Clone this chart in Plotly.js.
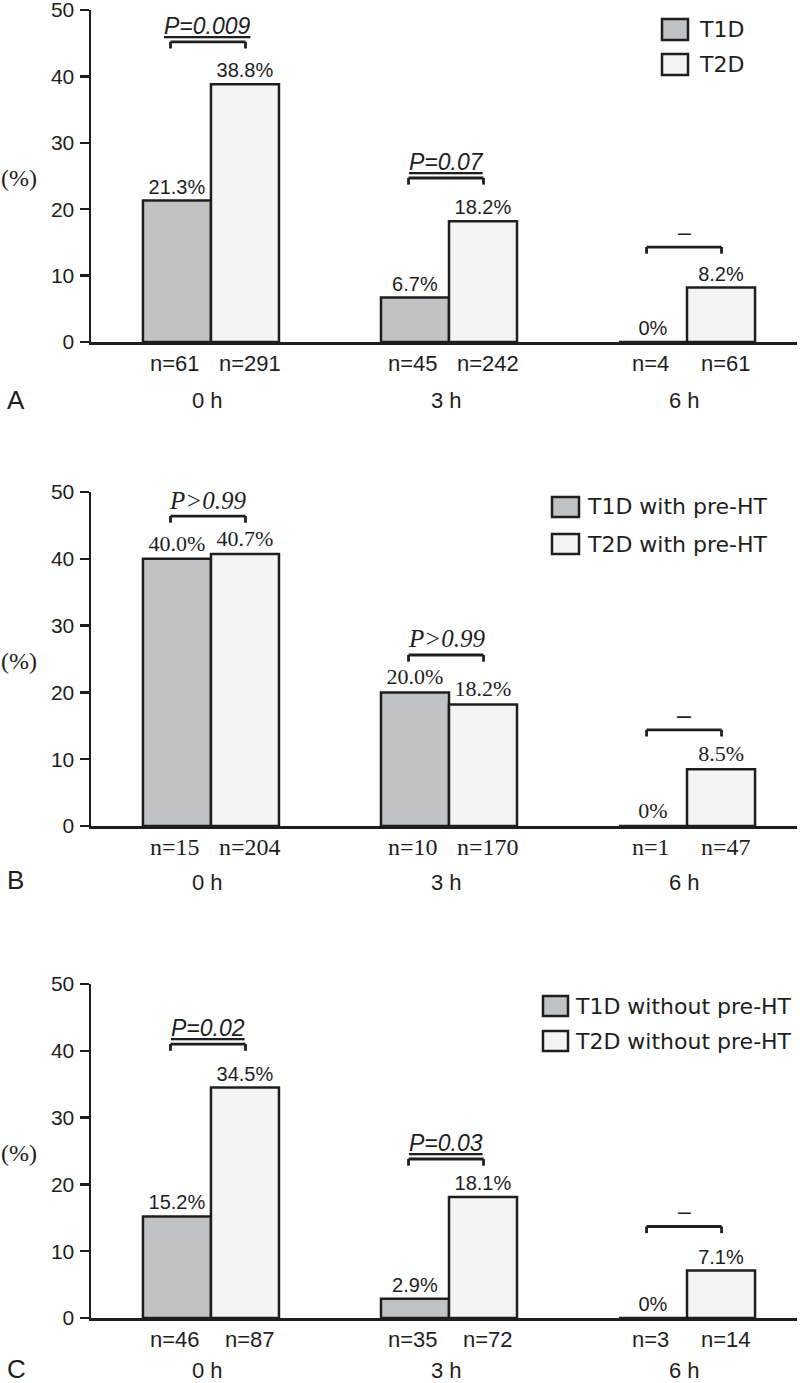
<!DOCTYPE html>
<html><head><meta charset="utf-8">
<script src="https://cdn.plot.ly/plotly-3.0.1.min.js"></script>
<style>body{margin:0;background:#fff}#chart{width:800px;height:1383px}</style>
</head><body><div id="chart"></div>
<script>
// ---- data ----
const timePoints = ['0 h', '3 h', '6 h'];
const panelLetters = ['A', 'B', 'C'];
const seriesNamesA = ['T1D', 'T2D'];
const seriesNamesB = ['T1D with pre-HT', 'T2D with pre-HT'];
const seriesNamesC = ['T1D without pre-HT', 'T2D without pre-HT'];
const t1dA = [21.3, 6.7, 0];
const t2dA = [38.8, 18.2, 8.2];
const t1dB = [40.0, 20.0, 0];
const t2dB = [40.7, 18.2, 8.5];
const t1dC = [15.2, 2.9, 0];
const t2dC = [34.5, 18.1, 7.1];
const nT1dA = [61, 45, 4];
const nT2dA = [291, 242, 61];
const nT1dB = [15, 10, 1];
const nT2dB = [204, 170, 47];
const nT1dC = [46, 35, 3];
const nT2dC = [87, 72, 14];
const pLabelsA = ['P=0.009', 'P=0.07', '–'];
const pLabelsB = ['P>0.99', 'P>0.99', '–'];
const pLabelsC = ['P=0.02', 'P=0.03', '–'];
const bracketA = [45.2, 24.7, 14.3];
const bracketB = [46.4, 25.6, 14.4];
const bracketC = [41.0, 23.8, 13.7];
const yTicks = [0, 10, 20, 30, 40, 50];

// ---- styling ----
const W = 800, H = 1383;
const INK = '#1e1e1e';
const T1D_FILL = '#c1c2c4', T2D_FILL = '#f4f4f4';
const SANS = 'Liberation Sans, Arial, sans-serif';
const SERIF = 'Liberation Serif, Times New Roman, serif';
const LEG = 'DejaVu Sans, sans-serif';
const px2x = p => p / W;
const px2y = p => 1 - p / H;

const panels = [
  {t1: t1dA, t2: t2dA, n1: nT1dA, n2: nT2dA, names: seriesNamesA, p: pLabelsA, br: bracketA,
   top: 10, bot: 342, font: SANS, lblSize: 20, nSize: 22, pSize: 23, pFont: SANS, underline: true,
   below: -58, letter: -58,
   leg: {x: 662, y: [19, 54], w: 26, h: 21, tx: 697}},
  {t1: t1dB, t2: t2dB, n1: nT1dB, n2: nT2dB, names: seriesNamesB, p: pLabelsB, br: bracketB,
   top: 492, bot: 826, font: SERIF, lblSize: 22, nSize: 24, pSize: 25, pFont: SERIF, underline: false,
   below: -56, letter: -54,
   leg: {x: 552, y: [497, 534], w: 27, h: 20, tx: 585}},
  {t1: t1dC, t2: t2dC, n1: nT1dC, n2: nT2dC, names: seriesNamesC, p: pLabelsC, br: bracketC,
   top: 984, bot: 1318, font: SANS, lblSize: 20, nSize: 22, pSize: 23, pFont: SANS, underline: true,
   below: -52, letter: -51,
   leg: {x: 543, y: [996, 1031], w: 25, h: 20, tx: 573}}
];

const fmt = v => v === 0 ? '0%' : v.toFixed(1) + '%';
const traces = [], annotations = [], shapes = [];
const layout = {
  width: W, height: H, margin: {l: 0, r: 0, t: 0, b: 0},
  paper_bgcolor: '#fff', plot_bgcolor: 'rgba(0,0,0,0)',
  barmode: 'group', bargap: 0.4286, bargroupgap: 0,
  showlegend: false, font: {family: SANS, color: INK},
  annotations, shapes
};

const X0 = 91, X1 = 797;
panels.forEach((pn, k) => {
  const sfx = k === 0 ? '' : String(k + 1);
  const xa = 'x' + sfx, ya = 'y' + sfx;
  layout['xaxis' + sfx] = {
    domain: [px2x(X0), px2x(X1)], anchor: ya, type: 'category',
    categoryorder: 'array', categoryarray: timePoints,
    range: [-0.504, 2.462], showline: true, linewidth: 2.5, linecolor: INK,
    ticks: '', showticklabels: false, showgrid: false, zeroline: false, fixedrange: true
  };
  layout['yaxis' + sfx] = {
    domain: [px2y(pn.bot), px2y(pn.top)], anchor: xa, range: [0, 50],
    tickvals: yTicks, ticks: 'outside', ticklen: 9, tickwidth: 2.5, tickcolor: INK,
    showline: true, linewidth: 2.5, linecolor: INK, showgrid: false, zeroline: false,
    tickfont: {family: SANS, size: 21, color: INK}, ticklabelstandoff: 1,
    ticklabeloverflow: 'allow', fixedrange: true
  };
  [[pn.t1, T1D_FILL, pn.names[0]], [pn.t2, T2D_FILL, pn.names[1]]].forEach(([vals, fill, name]) => {
    traces.push({
      type: 'bar', name, x: timePoints, y: vals, xaxis: xa, yaxis: ya,
      marker: {color: fill, line: {color: INK, width: 2.5}},
      text: vals.map(fmt), textposition: 'outside', cliponaxis: false, constraintext: 'none',
      textfont: {family: pn.font, size: pn.lblSize, color: INK}, hoverinfo: 'skip'
    });
  });
  // n labels and time labels
  timePoints.forEach((tp, i) => {
    annotations.push({xref: xa, yref: ya, x: i - 0.143, y: 0, yshift: -21, xshift: -2,
      text: 'n=' + pn.n1[i], showarrow: false, yanchor: 'middle',
      font: {family: pn.font, size: pn.nSize, color: INK}});
    annotations.push({xref: xa, yref: ya, x: i + 0.143, y: 0, yshift: -21, xshift: 5,
      text: 'n=' + pn.n2[i], showarrow: false, yanchor: 'middle',
      font: {family: pn.font, size: pn.nSize, color: INK}});
    annotations.push({xref: xa, yref: ya, x: i, y: 0, yshift: pn.below, xshift: -3,
      text: tp, showarrow: false, yanchor: 'middle',
      font: {family: SANS, size: 22, color: INK}});
    // significance bracket
    const bl = i - 0.17, brr = i + 0.145, h = pn.br[i];
    shapes.push({type: 'line', xref: xa, yref: ya, x0: bl, x1: brr, y0: h, y1: h, line: {color: INK, width: 2.8}});
    shapes.push({type: 'line', xref: xa, yref: ya, x0: bl, x1: bl, y0: h, y1: h - 1.0, line: {color: INK, width: 2.8}});
    shapes.push({type: 'line', xref: xa, yref: ya, x0: brr, x1: brr, y0: h, y1: h - 1.0, line: {color: INK, width: 2.8}});
    const isDash = pn.p[i] === '–';
    let txt = pn.p[i];
    if (!isDash) { txt = '<i>' + txt + '</i>'; if (pn.underline) txt = '<u>' + txt + '</u>'; }
    annotations.push({xref: xa, yref: ya, x: (bl + brr) / 2, y: h, yshift: isDash ? 15 : 16,
      text: txt, showarrow: false, yanchor: 'middle',
      font: {family: isDash ? SANS : pn.pFont, size: pn.pSize, color: INK}});
  });
  // (%) label
  annotations.push({xref: 'paper', yref: ya, x: px2x(19), y: 25, yshift: -2, text: '(%)',
    showarrow: false, xanchor: 'center', yanchor: 'middle', font: {family: SERIF, size: 24, color: INK}});
  // panel letter
  annotations.push({xref: 'paper', yref: ya, x: px2x(5), y: 0, yshift: pn.letter, text: panelLetters[k],
    showarrow: false, xanchor: 'left', yanchor: 'middle', font: {family: SANS, size: 26, color: INK}});
  // legend
  const lg = pn.leg;
  [T1D_FILL, T2D_FILL].forEach((fill, j) => {
    const yTop = lg.y[j];
    shapes.push({type: 'rect', xref: 'paper', yref: 'paper',
      x0: px2x(lg.x), x1: px2x(lg.x + lg.w), y0: px2y(yTop + lg.h), y1: px2y(yTop),
      fillcolor: fill, line: {color: INK, width: 2.5}});
    annotations.push({xref: 'paper', yref: 'paper', x: px2x(lg.tx), y: px2y(yTop + lg.h / 2),
      text: pn.names[j], showarrow: false, xanchor: 'left', yanchor: 'middle',
      font: {family: LEG, size: 22, color: INK}});
  });
});

Plotly.newPlot('chart', traces, layout, {staticPlot: true});
</script></body></html>
